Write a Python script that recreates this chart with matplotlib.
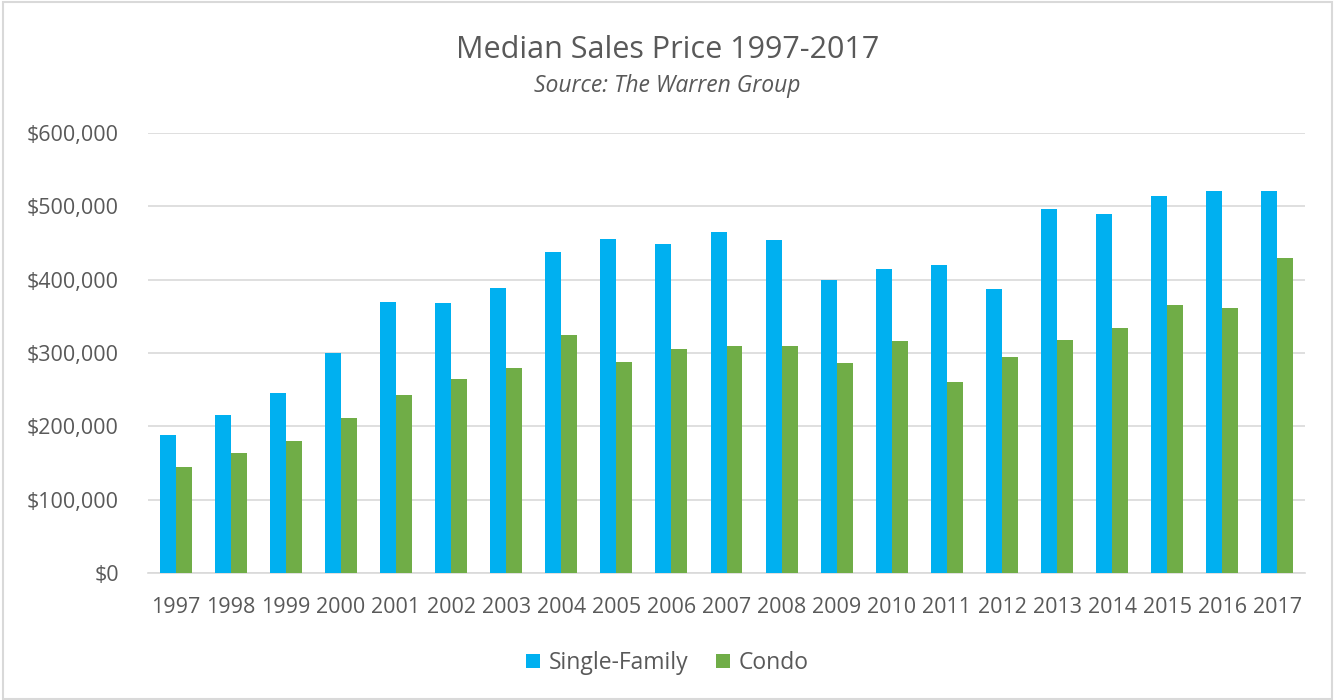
import numpy as np
import matplotlib.pyplot as plt
from matplotlib.ticker import FuncFormatter
from matplotlib.patches import Rectangle

plt.rcParams['font.family'] = ['Open Sans', 'DejaVu Sans']

# data
years = [str(y) for y in range(1997, 2018)]
single_family = [188000, 215000, 246000, 300000, 370000, 368000, 388000, 438000, 456000, 448000,
                 465000, 454000, 399000, 415000, 420000, 387000, 497000, 490000, 514000, 521000, 521000]
condo = [145000, 164000, 180000, 212000, 243000, 265000, 280000, 325000, 288000, 306000,
         310000, 310000, 286000, 317000, 260000, 295000, 318000, 334000, 365000, 362000, 430000]

txt = '#595959'
grid = '#D9D9D9'

fig = plt.figure(figsize=(13.35, 7), dpi=100)
ax = fig.add_axes([148 / 1335, 127 / 700, 1157 / 1335, 440 / 700])

x = np.arange(len(years))
w = 0.29
ax.bar(x - w / 2, single_family, w, color='#00B0F0', label='Single-Family', zorder=3)
ax.bar(x + w / 2, condo, w, color='#70AD47', label='Condo', zorder=3)

ax.set_xlim(-0.5, len(years) - 0.5)
ax.set_ylim(0, 600000)
ax.set_yticks(range(0, 600001, 100000))
ax.yaxis.set_major_formatter(FuncFormatter(lambda v, p: f'${v:,.0f}'))
ax.set_xticks(x)
ax.set_xticklabels(years)
ax.grid(axis='y', color=grid, linewidth=1.2, zorder=0)
for s in ['top', 'right', 'left']:
    ax.spines[s].set_visible(False)
ax.spines['bottom'].set_color(grid)
ax.spines['bottom'].set_linewidth(1.2)
ax.tick_params(length=0, labelsize=15.5, labelcolor=txt)
ax.tick_params(axis='x', pad=17)
ax.tick_params(axis='y', pad=21)

fig.text(0.5, 1 - 50 / 700, 'Median Sales Price 1997-2017', ha='center', va='center',
         fontsize=22, color=txt)
fig.text(0.5, 1 - 86 / 700, 'Source: The Warren Group', ha='center', va='center',
         fontsize=16.5, style='italic', color=txt)

fig.legend(loc='center', bbox_to_anchor=(0.5, 1 - 663 / 700), ncol=2, frameon=False,
           fontsize=16.5, labelcolor=txt, handlelength=0.6, handleheight=0.6,
           handletextpad=0.4, columnspacing=1.2)

fig.patches.append(Rectangle((0.002, 0.002), 0.996, 0.995, transform=fig.transFigure,
                             fill=False, edgecolor=grid, linewidth=1.5))

fig.savefig('out.png', dpi=100)
